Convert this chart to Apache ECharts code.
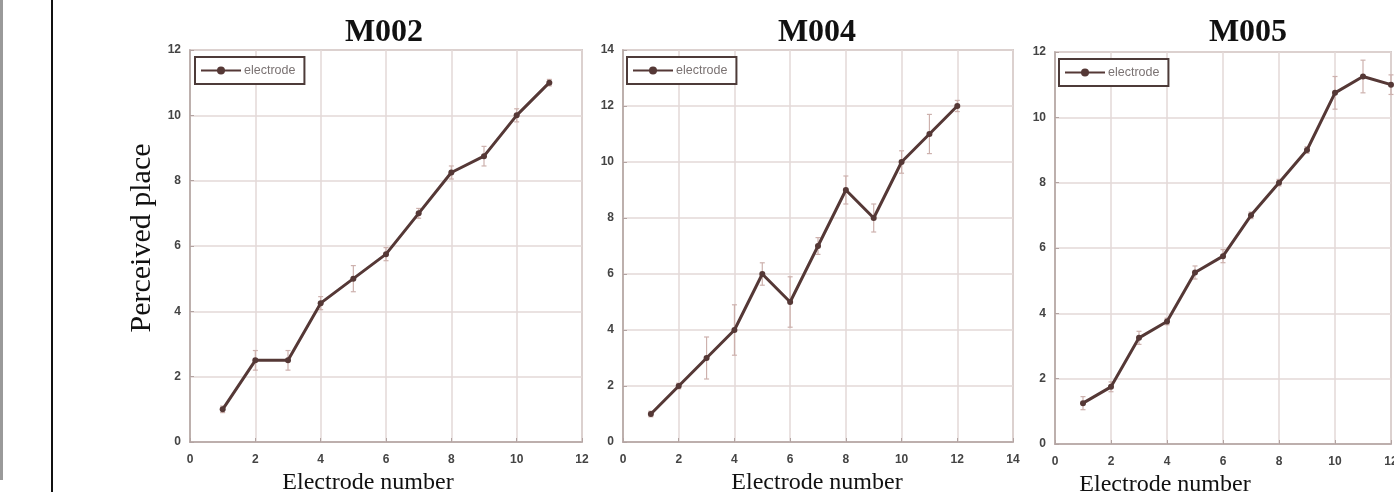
<!DOCTYPE html>
<html>
<head>
<meta charset="utf-8">
<script src="https://cdn.jsdelivr.net/npm/echarts@6/dist/echarts.min.js"></script>
<style>
html,body{margin:0;padding:0;background:#fff;}
#c{width:1394px;height:492px;}
</style>
</head>
<body>
<div id="c"></div>
<script>
// ---- data ----
const titles = ['M002', 'M004', 'M005'];
const m002X = [1, 2, 3, 4, 5, 6, 7, 8, 9, 10, 11];
const m002Y = [1, 2.5, 2.5, 4.25, 5, 5.75, 7, 8.25, 8.75, 10, 11];
const m002Err = [0.1, 0.3, 0.3, 0.2, 0.4, 0.2, 0.15, 0.2, 0.3, 0.2, 0.1];
const m004X = [1, 2, 3, 4, 5, 6, 7, 8, 9, 10, 11, 12];
const m004Y = [1, 2, 3, 4, 6, 5, 7, 9, 8, 10, 11, 12];
const m004Err = [0.1, 0.1, 0.75, 0.9, 0.4, 0.9, 0.3, 0.5, 0.5, 0.4, 0.7, 0.2];
const m005X = [1, 2, 3, 4, 5, 6, 7, 8, 9, 10, 11, 12];
const m005Y = [1.25, 1.75, 3.25, 3.75, 5.25, 5.75, 7, 8, 9, 10.75, 11.25, 11];
const m005Err = [0.2, 0.15, 0.2, 0.1, 0.2, 0.2, 0.1, 0.1, 0.1, 0.5, 0.5, 0.3];
const xMax = [12, 14, 12];
const yMax = [12, 14, 12];
const seriesName = 'electrode';
const xName = 'Electrode number';
const yName = 'Perceived place';

const panels = [
  {x: m002X, y: m002Y, e: m002Err},
  {x: m004X, y: m004Y, e: m004Err},
  {x: m005X, y: m005Y, e: m005Err}
];

// ---- layout/style ----
const grids = [
  {left: 190, top: 50, width: 392, height: 392},
  {left: 623, top: 50, width: 390, height: 392},
  {left: 1055, top: 52, width: 336, height: 392}
];
const titlePos = [379, 812, 1243];
const legendPos = [[195, 57], [627, 57], [1059, 59]];
const xNamePad = [[0, 36, 0, 0], [0, 2, 0, 0], [0, 116, 0, 0]];
const xNameGap = [22, 22, 27];
const lineColor = '#553836';
const gridColor = '#e3d8d7';
const frameColor = '#b3a4a2';
const errColor = '#cdb1ad';
const serif = '"Liberation Serif", "Times New Roman", serif';
const sans = '"Liberation Sans", Arial, sans-serif';

const option = {
  animation: false,
  backgroundColor: '#fff',
  title: titles.map((t, i) => ({
    text: t, left: titlePos[i], top: 12, textAlign: 'center',
    textStyle: {fontFamily: serif, fontWeight: 'bold', fontSize: 32, color: '#111'}
  })),
  legend: titles.map((t, i) => ({
    data: [seriesName], left: legendPos[i][0], top: legendPos[i][1],
    orient: 'horizontal', itemWidth: 40, itemHeight: 10, itemGap: 4,
    padding: [7, 9, 7, 5],
    borderColor: '#4d3b39', borderWidth: 2, backgroundColor: '#fff',
    textStyle: {fontFamily: sans, fontSize: 12.5, color: '#7a7272', padding: [0, 0, 0, -2]},
    selectedMode: false
  })),
  grid: grids.map(g => Object.assign({show: true, outerBoundsMode: 'none', containLabel: false,
    borderColor: frameColor, borderWidth: 1.5, backgroundColor: '#fff'}, g)),
  xAxis: grids.map((g, i) => ({
    type: 'value', gridIndex: i, min: 0, max: xMax[i], interval: 2,
    name: xName, nameLocation: 'middle', nameGap: xNameGap[i],
    nameTextStyle: {fontFamily: serif, fontSize: 24, color: '#111', padding: xNamePad[i]},
    axisLine: {show: true, lineStyle: {color: frameColor, width: 1.5}},
    axisTick: {show: true, inside: true, length: 4, lineStyle: {color: frameColor}},
    axisLabel: {fontFamily: sans, fontWeight: 'bold', fontSize: 12, color: '#444', margin: 12},
    splitLine: {show: true, lineStyle: {color: gridColor, width: 1.5}}
  })),
  yAxis: grids.map((g, i) => ({
    type: 'value', gridIndex: i, min: 0, max: yMax[i], interval: 2,
    name: i === 0 ? yName : '', nameLocation: 'middle', nameGap: 33, nameRotate: 90,
    nameTextStyle: {fontFamily: serif, fontSize: 30, color: '#111', padding: [0, 0, 0, 16]},
    axisLine: {show: true, lineStyle: {color: frameColor, width: 1.5}},
    axisTick: {show: true, inside: true, length: 4, lineStyle: {color: frameColor}},
    axisLabel: {fontFamily: sans, fontWeight: 'bold', fontSize: 12, color: '#444', margin: 9},
    splitLine: {show: true, lineStyle: {color: gridColor, width: 1.5}}
  })),
  series: []
};

panels.forEach((p, i) => {
  option.series.push({
    type: 'custom', xAxisIndex: i, yAxisIndex: i, z: 1, silent: true,
    data: p.x.map((x, k) => [x, p.y[k], p.e[k]]),
    renderItem: function (params, api) {
      const x = api.value(0), y = api.value(1), e = api.value(2);
      const hi = api.coord([x, y + e]);
      const lo = api.coord([x, y - e]);
      const cap = 2.5;
      const st = {stroke: errColor, lineWidth: 1.2, fill: null};
      return {
        type: 'group',
        children: [
          {type: 'line', shape: {x1: hi[0], y1: hi[1], x2: lo[0], y2: lo[1]}, style: st},
          {type: 'line', shape: {x1: hi[0] - cap, y1: hi[1], x2: hi[0] + cap, y2: hi[1]}, style: st},
          {type: 'line', shape: {x1: lo[0] - cap, y1: lo[1], x2: lo[0] + cap, y2: lo[1]}, style: st}
        ]
      };
    }
  });
  option.series.push({
    name: seriesName, type: 'line', xAxisIndex: i, yAxisIndex: i, z: 3,
    data: p.x.map((x, k) => [x, p.y[k]]),
    symbol: 'circle', symbolSize: 6,
    lineStyle: {color: lineColor, width: 3},
    itemStyle: {color: lineColor}
  });
});

option.graphic = [
  {type: 'rect', shape: {x: 0, y: 0, width: 3, height: 480}, style: {fill: '#9a9a9a'}},
  {type: 'rect', shape: {x: 51, y: 0, width: 2, height: 492}, style: {fill: '#111'}}
];

const chart = echarts.init(document.getElementById('c'), null, {renderer: 'canvas'});
chart.setOption(option);
</script>
</body>
</html>
